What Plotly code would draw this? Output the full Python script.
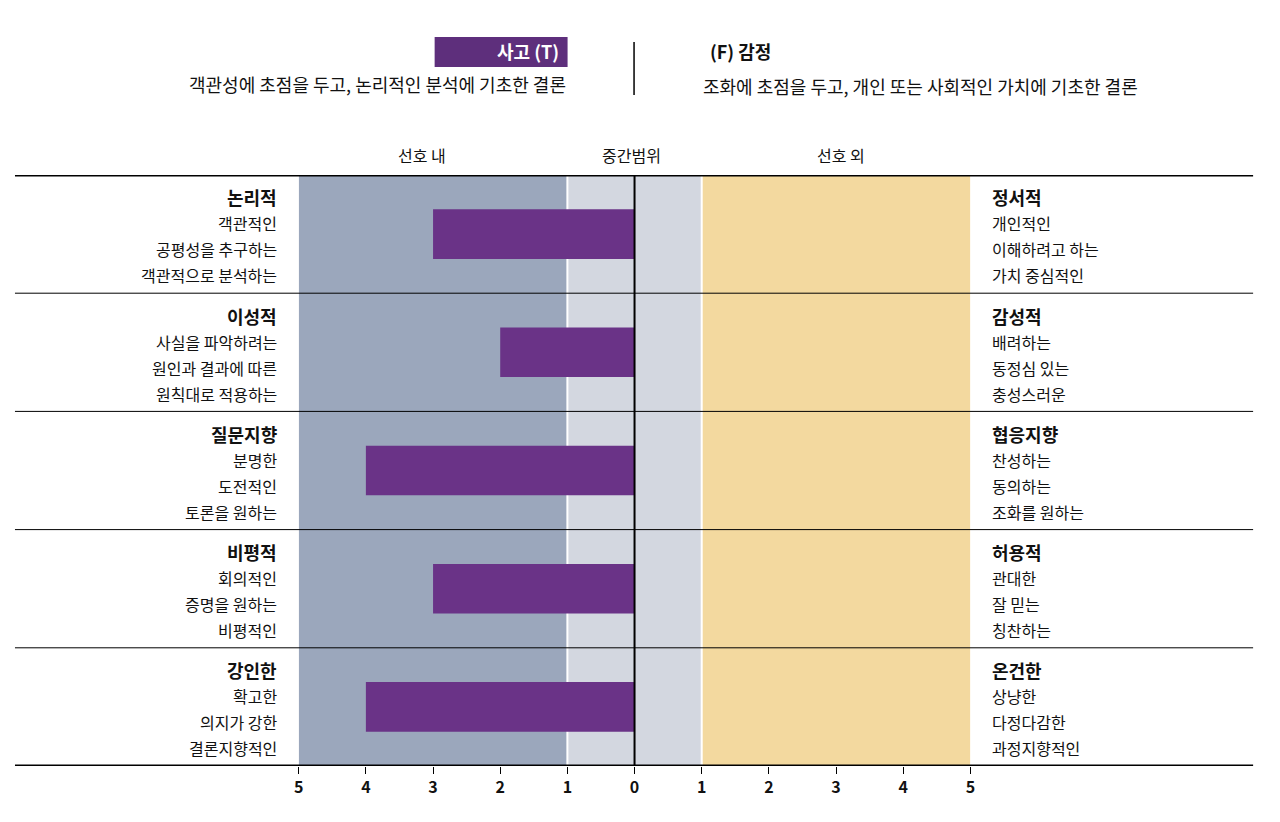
import plotly.graph_objects as go

left_titles = ["논리적", "이성적", "질문지향", "비평적", "강인한"]
left_lines = [["객관적인", "공평성을 추구하는", "객관적으로 분석하는"],
              ["사실을 파악하려는", "원인과 결과에 따른", "원칙대로 적용하는"],
              ["분명한", "도전적인", "토론을 원하는"],
              ["회의적인", "증명을 원하는", "비평적인"],
              ["확고한", "의지가 강한", "결론지향적인"]]
right_titles = ["정서적", "감성적", "협응지향", "허용적", "온건한"]
right_lines = [["개인적인", "이해하려고 하는", "가치 중심적인"],
               ["배려하는", "동정심 있는", "충성스러운"],
               ["찬성하는", "동의하는", "조화를 원하는"],
               ["관대한", "잘 믿는", "칭찬하는"],
               ["상냥한", "다정다감한", "과정지향적인"]]
values = [-3, -2, -4, -3, -4]
tick_vals = [-5, -4, -3, -2, -1, 0, 1, 2, 3, 4, 5]
tick_text = ["<b>5</b>", "<b>4</b>", "<b>3</b>", "<b>2</b>", "<b>1</b>", "<b>0</b>",
             "<b>1</b>", "<b>2</b>", "<b>3</b>", "<b>4</b>", "<b>5</b>"]

FONT = "Noto Sans CJK KR"
OFF = 8
W, H = 1280 - 2 * OFF, 822 - 2 * OFF
TOP, BOT = 175 - OFF, 766 - OFF
PH = BOT - TOP

def px(x):
    return (x - OFF) / W

def py(y):
    return 1 + (TOP - (y - OFF)) / PH

fig = go.Figure()
ypos = [i + 0.5 for i in range(5)]
fig.add_trace(go.Bar(x=values, y=ypos, orientation="h", width=0.42,
                     marker=dict(color="#6a3387", line=dict(width=0)), hoverinfo="skip"))

shapes = []
shapes.append(dict(type="rect", xref="x", yref="y", x0=-5, x1=-1, y0=0, y1=5, fillcolor="#9ba7bc", line_width=0, layer="below"))
shapes.append(dict(type="rect", xref="x", yref="y", x0=-1, x1=1, y0=0, y1=5, fillcolor="#d3d7e0", line_width=0, layer="below"))
shapes.append(dict(type="rect", xref="x", yref="y", x0=1, x1=5, y0=0, y1=5, fillcolor="#f3d99f", line_width=0, layer="below"))
for xv in (-1, 1):
    shapes.append(dict(type="line", xref="x", yref="y", x0=xv, x1=xv, y0=0, y1=5, line=dict(color="white", width=2), layer="below"))
shapes.append(dict(type="line", xref="x", yref="y", x0=0, x1=0, y0=0, y1=5, line=dict(color="black", width=2)))
for i in range(6):
    w = 3 if i in (0, 5) else 1
    shapes.append(dict(type="line", xref="paper", yref="y", x0=px(10), x1=px(1258), y0=i, y1=i, line=dict(color="black", width=w)))
shapes.append(dict(type="rect", xref="paper", yref="paper", x0=px(433), x1=px(567), y0=py(37), y1=py(67), fillcolor="#5e2f7c", line_width=0))
shapes.append(dict(type="line", xref="paper", yref="paper", x0=px(634), x1=px(634), y0=py(42), y1=py(95), line=dict(color="black", width=1.5)))

ann = []
ann.append(dict(text="<b>사고 (T)</b>", x=px(560), y=py(51), xanchor="right", font=dict(size=18, color="white")))
ann.append(dict(text="객관성에 초점을 두고, 논리적인 분석에 기초한 결론", x=px(567), y=py(84), xanchor="right", font=dict(size=18)))
ann.append(dict(text="<b>(F) 감정</b>", x=px(709), y=py(51), xanchor="left", font=dict(size=18)))
ann.append(dict(text="조화에 초점을 두고, 개인 또는 사회적인 가치에 기초한 결론", x=px(701), y=py(86), xanchor="left", font=dict(size=18)))
for t, xp in (("선호 내", 420), ("중간범위", 631), ("선호 외", 843)):
    ann.append(dict(text=t, x=px(xp), y=py(155), xanchor="center", font=dict(size=16)))
offs = [0.19, 0.41, 0.63, 0.85]
for i in range(5):
    ann.append(dict(text="<b>" + left_titles[i] + "</b>", x=px(276), y=i + offs[0], yref="y", xanchor="right", font=dict(size=18)))
    ann.append(dict(text="<b>" + right_titles[i] + "</b>", x=px(993), y=i + offs[0], yref="y", xanchor="left", font=dict(size=18)))
    for k in range(3):
        ann.append(dict(text=left_lines[i][k], x=px(276), y=i + offs[k+1], yref="y", xanchor="right", font=dict(size=16)))
        ann.append(dict(text=right_lines[i][k], x=px(993), y=i + offs[k+1], yref="y", xanchor="left", font=dict(size=16)))
for a in ann:
    a.setdefault("xref", "paper")
    a.setdefault("yref", "paper")
    a["showarrow"] = False
    a["yanchor"] = "middle"
    a["font"].setdefault("color", "#111")
    a["font"]["family"] = FONT

fig.update_layout(
    width=W, height=H, margin=dict(l=0, r=0, t=TOP, b=H - BOT),
    paper_bgcolor="white", plot_bgcolor="white", showlegend=False,
    shapes=shapes, annotations=ann, font=dict(family=FONT, color="#111"),
    xaxis=dict(domain=[px(296), px(973)], range=[-5, 5], tickvals=tick_vals, ticktext=tick_text,
               showgrid=False, zeroline=False, ticks="outside", ticklen=7, tickcolor="black",
               tickfont=dict(size=16, family=FONT, color="#111")),
    yaxis=dict(range=[5, 0], showgrid=False, zeroline=False, showticklabels=False),
)
fig.write_html("out.html")
